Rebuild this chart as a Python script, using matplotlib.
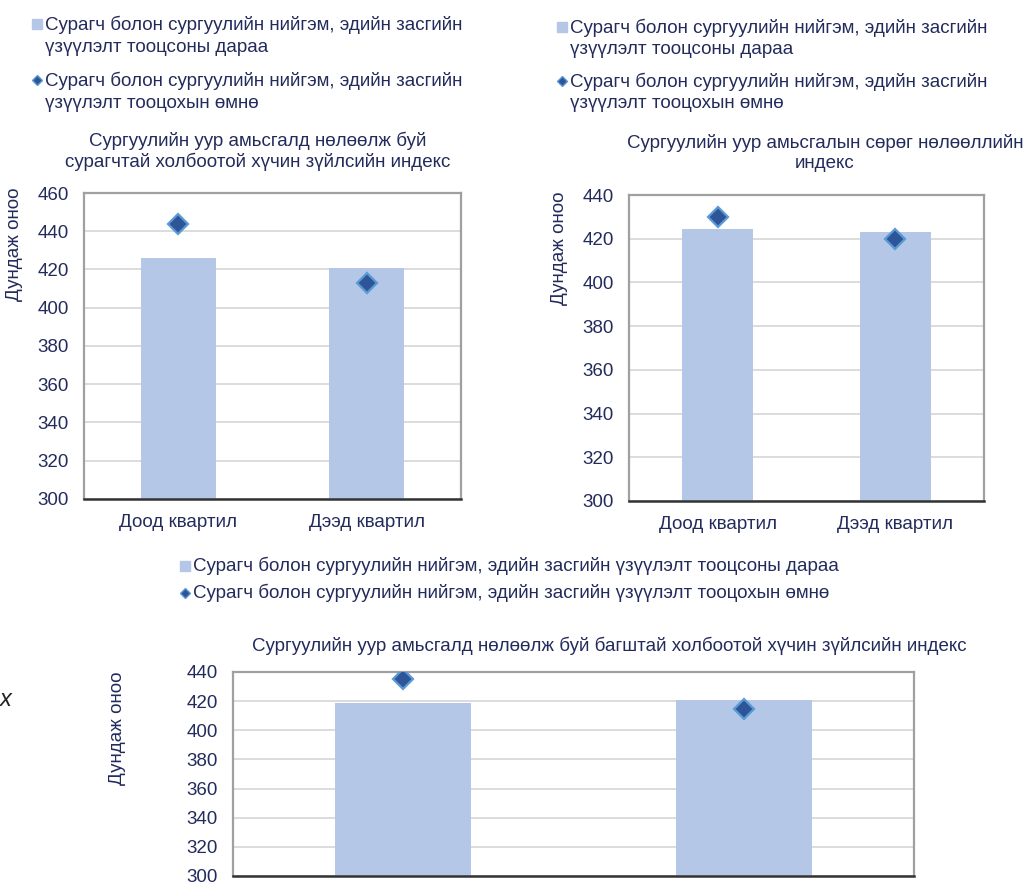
import matplotlib
matplotlib.use('Agg')
import matplotlib.pyplot as plt
from matplotlib.lines import Line2D

plt.rcParams['font.family'] = ['Liberation Sans', 'DejaVu Sans']

W, H = 1025, 885
TXT = '#232b5c'
BAR = '#b4c7e7'
DIA = '#2e5597'
DIA_EDGE = '#5b9bd5'
FS = 13.5

categories = ['Доод квартил', 'Дээд квартил']
after_student = [426, 421]
before_student = [444, 413]
after_neg = [424.5, 423.3]
before_neg = [429.8, 420]
after_teacher = [418.8, 420.7]
before_teacher = [435, 414.5]

lbl_after = 'Сурагч болон сургуулийн нийгэм, эдийн засгийн үзүүлэлт тооцсоны дараа'
lbl_before = 'Сурагч болон сургуулийн нийгэм, эдийн засгийн үзүүлэлт тооцохын өмнө'
lbl_after_2 = ['Сурагч болон сургуулийн нийгэм, эдийн засгийн', 'үзүүлэлт тооцсоны дараа']
lbl_before_2 = ['Сурагч болон сургуулийн нийгэм, эдийн засгийн', 'үзүүлэлт тооцохын өмнө']
ylabel = 'Дундаж оноо'


def fx(px):
    return px / W


def fy(py):
    return 1 - py / H


def box(l, t, r, b):
    return [fx(l), fy(b), (r - l) / W, (b - t) / H]


def panel(ax, after, before, ymax, ticklabels=True):
    x = range(len(categories))
    ax.bar(x, after, width=0.4, color=BAR, zorder=2)
    ax.plot(x, before, 'D', ms=10.5, color=DIA, mec=DIA_EDGE, mew=1.6, ls='none', zorder=3)
    ax.set_xlim(-0.5, 1.5)
    ax.set_ylim(300, ymax)
    ax.set_yticks(range(300, ymax + 1, 20))
    ax.set_xticks(list(x))
    if ticklabels:
        ax.set_xticklabels(categories)
    else:
        ax.set_xticklabels([])
    ax.tick_params(length=0, labelsize=FS, colors=TXT, pad=11)
    ax.yaxis.grid(True, color='#d9d9d9', lw=1.3)
    ax.set_axisbelow(True)
    for s in ['top', 'right', 'left']:
        ax.spines[s].set_color('#a0a0a0')
        ax.spines[s].set_linewidth(1.6)
    ax.spines['bottom'].set_color('#333333')
    ax.spines['bottom'].set_linewidth(1.8)


def key(fig, px, py, marker):
    if marker == 's':
        fig.add_artist(Line2D([fx(px)], [fy(py)], marker='s', ms=7.5, color=BAR,
                              ls='none', transform=fig.transFigure))
    else:
        fig.add_artist(Line2D([fx(px)], [fy(py)], marker='D', ms=5, color=DIA,
                              mec=DIA_EDGE, mew=1, ls='none', transform=fig.transFigure))


def text(fig, px, py, s, ha='left', **kw):
    fig.text(fx(px), fy(py), s, ha=ha, va='center', color=TXT, fontsize=FS, **kw)


fig = plt.figure(figsize=(W / 100, H / 100), dpi=100)

# top left
ax1 = fig.add_axes(box(84, 193, 461, 499))
panel(ax1, after_student, before_student, 460)
key(fig, 37, 24, 's')
text(fig, 45, 25, lbl_after_2[0])
text(fig, 45, 47, lbl_after_2[1])
key(fig, 37, 80, 'D')
text(fig, 45, 81, lbl_before_2[0])
text(fig, 45, 103, lbl_before_2[1])
text(fig, 258, 141, 'Сургуулийн уур амьсгалд нөлөөлж буй', ha='center')
text(fig, 258, 162, 'сурагчтай холбоотой хүчин зүйлсийн индекс', ha='center')
text(fig, 15, 244, ylabel, ha='center', rotation=90)

# top right
ax2 = fig.add_axes(box(629, 195, 984, 501))
panel(ax2, after_neg, before_neg, 440)
key(fig, 562, 27, 's')
text(fig, 570, 28, lbl_after_2[0])
text(fig, 570, 49, lbl_after_2[1])
key(fig, 562, 81, 'D')
text(fig, 570, 82, lbl_before_2[0])
text(fig, 570, 103, lbl_before_2[1])
text(fig, 825, 143, 'Сургуулийн уур амьсгалын сөрөг нөлөөллийн', ha='center')
text(fig, 825, 164, 'индекс', ha='center')
text(fig, 560, 248, ylabel, ha='center', rotation=90)

# bottom
ax3 = fig.add_axes(box(233, 672, 914, 876))
panel(ax3, after_teacher, before_teacher, 440, ticklabels=False)
key(fig, 185, 566, 's')
text(fig, 193, 566, lbl_after)
key(fig, 185, 593, 'D')
text(fig, 193, 593, lbl_before)
text(fig, 609, 646, 'Сургуулийн уур амьсгалд нөлөөлж буй багштай холбоотой хүчин зүйлсийн индекс',
     ha='center')
text(fig, 118, 728, ylabel, ha='center', rotation=90)
fig.text(fx(0), fy(699), 'x', ha='left', va='center', fontsize=17, style='italic', color='#222222')

fig.savefig('out.png', dpi=100)
